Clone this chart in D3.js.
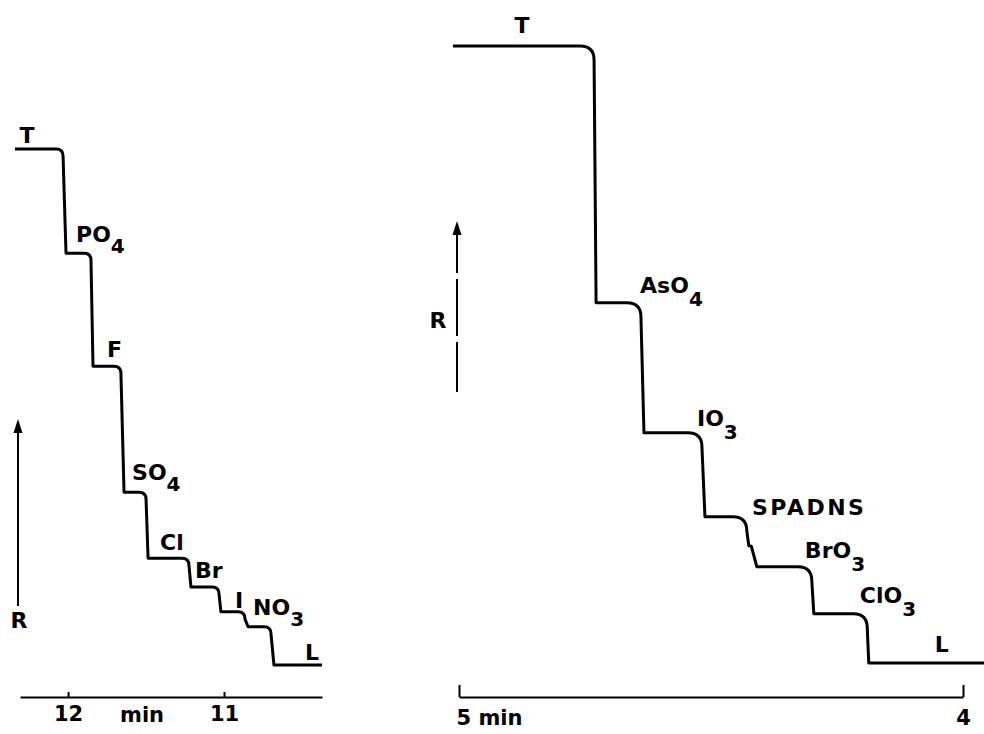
<!DOCTYPE html>
<html>
<head>
<meta charset="utf-8">
<script src="https://cdn.jsdelivr.net/npm/d3@7"></script>
<style>
  body { margin: 0; background: #fff; }
  svg text { font-family: "DejaVu Sans", sans-serif; font-weight: bold; fill: #000; }
</style>
</head>
<body>
<svg id="chart" width="984" height="734"></svg>
<script>
// left trace (time in min, detector response in % of full step)
var leftStart = 12.34, leftEnd = 10.372;
var leftLevels = [100, 79.8, 57.9, 33.5, 20.7, 15.1, 10.3, 7.4, 0];
var leftDropTop = [12.032, 11.853, 11.661, 11.500, 11.225, 11.032, 10.866, 10.699];
var leftDropBottom = [12.013, 11.840, 11.641, 11.487, 11.212, 11.020, 10.846, 10.680];
var leftNames = [["T", ""], ["PO", "4"], ["F", ""], ["SO", "4"], ["Cl", ""], ["Br", ""], ["I", ""], ["NO", "3"], ["L", ""]];
var leftTicks = [12, 11];

// right trace
var rightStart = 5.012, rightEnd = 3.958;
var rightLevels = [100, 58.4, 37.3, 23.7, 19.0, 15.6, 8.0, 0];
var rightDropTop = [4.732, 4.639, 4.518, 4.429, 4.419, 4.300, 4.190];
var rightDropBottom = [4.728, 4.633, 4.512, 4.425, 4.409, 4.296, 4.187];
var rightNames = [["T", ""], ["AsO", "4"], ["IO", "3"], ["SPADNS", ""], null, ["BrO", "3"], ["ClO", "3"], ["L", ""]];
var rightTicks = [5, 4];

// label offsets from the step corner (px)
var leftOffsets = [[0, 0], [10, 11], [14, 9], [8, 12], [12, 8], [4, 9], [14, 4], [5, 12], [31, 5]];
var rightOffsets = [[0, 0], [44, 10], [53, 7], [47, 2], null, [48, 9], [46, 11], [66, 11]];

var svg = d3.select("#chart");

var xL = d3.scaleLinear().domain([12.308, 10.372]).range([20, 322]);
var yL = d3.scaleLinear().domain([0, 100]).range([665, 149]);
var xR = d3.scaleLinear().domain([5, 4]).range([459, 963]);
var yR = d3.scaleLinear().domain([0, 100]).range([663, 46]);

function stepPath(x, y, start, end, levels, tops, bottoms, r) {
    var p = d3.path();
    var prevX = x(start);
    p.moveTo(prevX, y(levels[0]));
    for (var i = 1; i < levels.length; i++) {
        var y0 = y(levels[i - 1]), y1 = y(levels[i]);
        var xt = x(tops[i - 1]), xb = x(bottoms[i - 1]);
        var rr = Math.min(r, (y1 - y0) / 2, (xt - prevX) * 0.8);
        p.lineTo(xt - rr, y0);
        p.quadraticCurveTo(xt, y0, xt, y0 + rr);
        p.lineTo(xb, y1);
        prevX = xb;
    }
    p.lineTo(x(end), y(levels[levels.length - 1]));
    return p.toString();
}

svg.append("path")
    .attr("d", stepPath(xL, yL, leftStart, leftEnd, leftLevels, leftDropTop, leftDropBottom, 7))
    .attr("fill", "none").attr("stroke", "#000").attr("stroke-width", 3)
    .attr("stroke-linejoin", "round");

svg.append("path")
    .attr("d", stepPath(xR, yR, rightStart, rightEnd, rightLevels, rightDropTop, rightDropBottom, 14))
    .attr("fill", "none").attr("stroke", "#000").attr("stroke-width", 3)
    .attr("stroke-linejoin", "round");

function addLabel(x, y, name, size, subDy) {
    var t = svg.append("text").attr("x", x).attr("y", y).style("font-size", size + "px");
    t.append("tspan").text(name[0]);
    if (name[1]) {
        t.append("tspan").text(name[1]).attr("dy", subDy).style("font-size", (size - 2) + "px");
    }
    return t;
}

// step labels
leftNames.forEach(function (n, i) {
    if (i == 0) {
        addLabel(xL(leftStart) + 12, yL(leftLevels[0]) - 6, n, 22, 0).attr("text-anchor", "middle");
        return;
    }
    var o = leftOffsets[i];
    addLabel(xL(leftDropBottom[i - 1]) + o[0], yL(leftLevels[i]) - o[1], n, 22, 11);
});

rightNames.forEach(function (n, i) {
    if (!n) return;
    if (i == 0) {
        addLabel(xR(4.875), yR(rightLevels[0]) - 13, n, 22, 0).attr("text-anchor", "middle");
        return;
    }
    var o = rightOffsets[i];
    var t = addLabel(xR(rightDropBottom[i - 1]) + o[0], yR(rightLevels[i]) - o[1], n, 22, 13);
    if (n[0] == "SPADNS") t.style("letter-spacing", "2.5px");
});

// time axes
var axL = svg.append("g").attr("transform", "translate(0,697)")
    .call(d3.axisBottom(xL).tickValues(leftTicks).tickFormat(d3.format("d"))
        .tickSizeInner(-5).tickSizeOuter(0).tickPadding(9));
var axR = svg.append("g").attr("transform", "translate(0,697)")
    .call(d3.axisBottom(xR).tickValues(rightTicks)
        .tickFormat(function (d) { return d == 5 ? "5 min" : d; })
        .tickSizeInner(-12).tickSizeOuter(0).tickPadding(13));

[axL, axR].forEach(function (a) {
    a.attr("font-family", null).attr("font-size", null);
    a.select(".domain").attr("stroke-width", 2);
    a.selectAll(".tick line").attr("stroke-width", 2);
    a.selectAll(".tick text").style("font-size", "21px");
});
axR.selectAll(".tick text").filter(function (d) { return d == 5; })
    .attr("text-anchor", "start").attr("x", -3);

svg.append("text").attr("x", xL(11.5) - 4).attr("y", 722)
    .attr("text-anchor", "middle").style("font-size", "21px").text("min");

// response arrows
function arrowHead(x, y) {
    svg.append("path")
        .attr("d", "M" + x + "," + y + " L" + (x + 4.5) + "," + (y + 14) + " L" + (x - 4.5) + "," + (y + 14) + " Z")
        .attr("fill", "#000");
}

svg.append("line").attr("x1", 18).attr("y1", 606).attr("x2", 18).attr("y2", 430)
    .attr("stroke", "#000").attr("stroke-width", 2);
arrowHead(18, 419);
svg.append("text").attr("x", 19).attr("y", 628).attr("text-anchor", "middle")
    .style("font-size", "22px").text("R");

svg.append("line").attr("x1", 457).attr("y1", 392).attr("x2", 457).attr("y2", 232)
    .attr("stroke", "#000").attr("stroke-width", 2)
    .attr("stroke-dasharray", "50,6,57,6,46");
arrowHead(457, 221);
svg.append("text").attr("x", 438).attr("y", 328).attr("text-anchor", "middle")
    .style("font-size", "22px").text("R");
</script>
</body>
</html>
